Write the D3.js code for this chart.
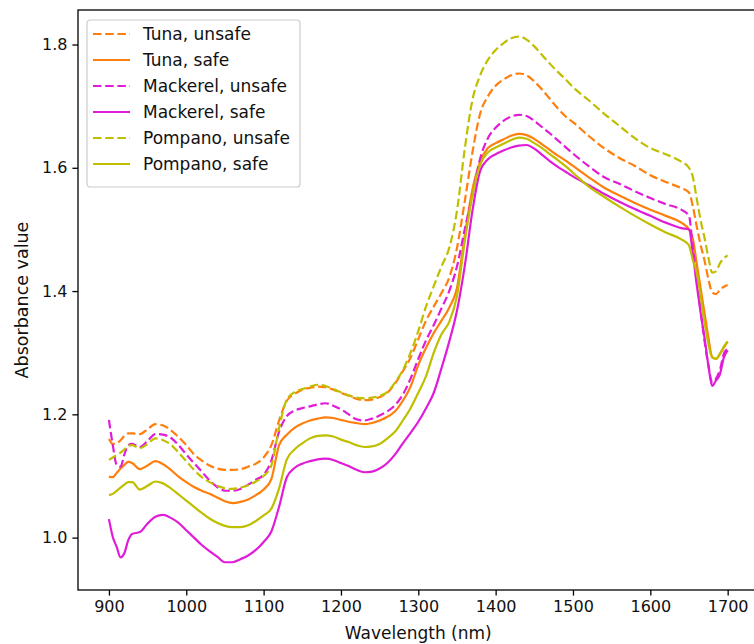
<!DOCTYPE html>
<html>
<head>
<meta charset="utf-8">
<script src="https://cdn.jsdelivr.net/npm/d3@7"></script>
<style>
  body { margin: 0; background: #fff; }
  svg { display: block; font-family: "DejaVu Sans", sans-serif; }
</style>
</head>
<body>
<div id="chart"></div>
<script>
// 波长 (nm)
const wavelength = [900, 905, 910, 915, 920, 925, 930,
  940, 950, 960, 970, 980, 990, 1000, 1010, 1020, 1030,
  1040, 1050, 1060, 1070, 1080, 1090, 1100, 1110, 1120, 1130,
  1140, 1150, 1160, 1170, 1180, 1190, 1200, 1210, 1220, 1230,
  1240, 1250, 1260, 1270, 1280, 1290, 1300, 1310, 1320, 1330,
  1340, 1350, 1360, 1370, 1380, 1390, 1400, 1410, 1420, 1430,
  1440, 1450, 1460, 1470, 1480, 1490, 1500,
  1520, 1540, 1560, 1580, 1600, 1620, 1640,
  1650, 1655, 1660, 1665, 1670, 1675, 1680, 1685, 1690, 1695, 1700];

const tunaUnsafe = [1.160, 1.152, 1.153, 1.158, 1.165, 1.169, 1.169,
  1.168, 1.176, 1.184, 1.182, 1.174, 1.163, 1.150, 1.135, 1.125, 1.117,
  1.112, 1.110, 1.110, 1.111, 1.115, 1.120, 1.130, 1.150, 1.190, 1.222,
  1.233, 1.240, 1.243, 1.245, 1.244, 1.240, 1.235, 1.230, 1.225, 1.223,
  1.224, 1.228, 1.235, 1.250, 1.270, 1.292, 1.322, 1.352, 1.375, 1.397,
  1.422, 1.470, 1.545, 1.625, 1.688, 1.716, 1.733, 1.743, 1.750, 1.753,
  1.750, 1.740, 1.727, 1.712, 1.697, 1.684, 1.674,
  1.652, 1.632, 1.616, 1.603, 1.588, 1.577, 1.567,
  1.560, 1.537, 1.505, 1.475, 1.450, 1.420, 1.398, 1.395, 1.402, 1.407, 1.410];

const tunaSafe = [1.099, 1.098, 1.105, 1.112, 1.118, 1.123, 1.121,
  1.111, 1.117, 1.124, 1.119, 1.110, 1.099, 1.090, 1.082, 1.076, 1.071,
  1.065, 1.059, 1.056, 1.058, 1.062, 1.069, 1.078, 1.095, 1.150, 1.167,
  1.178, 1.185, 1.190, 1.193, 1.195, 1.194, 1.191, 1.188, 1.186, 1.184,
  1.186, 1.190, 1.196, 1.205, 1.222, 1.245, 1.280, 1.308, 1.332, 1.352,
  1.373, 1.405, 1.490, 1.565, 1.610, 1.632, 1.640, 1.646, 1.652, 1.655,
  1.653, 1.647, 1.638, 1.629, 1.620, 1.612, 1.603,
  1.585, 1.568, 1.555, 1.543, 1.532, 1.522, 1.511,
  1.500, 1.485, 1.445, 1.405, 1.365, 1.325, 1.293, 1.290, 1.298, 1.308, 1.318];

const mackerelUnsafe = [1.191, 1.150, 1.118, 1.115, 1.135, 1.150, 1.152,
  1.147, 1.157, 1.168, 1.167, 1.162, 1.150, 1.135, 1.121, 1.107, 1.093,
  1.082, 1.076, 1.076, 1.079, 1.086, 1.094, 1.102, 1.125, 1.172, 1.197,
  1.206, 1.210, 1.213, 1.216, 1.218, 1.214, 1.208, 1.200, 1.192, 1.190,
  1.193, 1.198, 1.205, 1.215, 1.232, 1.258, 1.290, 1.320, 1.345, 1.372,
  1.400, 1.440, 1.500, 1.555, 1.615, 1.648, 1.665, 1.676, 1.683, 1.686,
  1.684, 1.676, 1.666, 1.656, 1.645, 1.634, 1.623,
  1.603, 1.585, 1.574, 1.562, 1.551, 1.541, 1.532,
  1.522, 1.470, 1.420, 1.370, 1.320, 1.280, 1.252, 1.258, 1.272, 1.298, 1.306];

const mackerelSafe = [1.030, 1.001, 0.985, 0.968, 0.975, 0.996, 1.006,
  1.009, 1.023, 1.034, 1.037, 1.032, 1.024, 1.012, 1.000, 0.988, 0.978,
  0.969, 0.960, 0.960, 0.965, 0.971, 0.980, 0.993, 1.010, 1.050, 1.098,
  1.113, 1.120, 1.124, 1.127, 1.128, 1.126, 1.121, 1.116, 1.110, 1.106,
  1.107, 1.112, 1.121, 1.135, 1.153, 1.170, 1.188, 1.210, 1.235, 1.275,
  1.318, 1.368, 1.440, 1.530, 1.595, 1.614, 1.622, 1.628, 1.633, 1.636,
  1.637, 1.631, 1.621, 1.611, 1.602, 1.594, 1.586,
  1.572, 1.558, 1.545, 1.533, 1.522, 1.511, 1.502,
  1.500, 1.461, 1.410, 1.365, 1.325, 1.280, 1.246, 1.255, 1.265, 1.292, 1.304];

const pompanoUnsafe = [1.126, 1.130, 1.134, 1.138, 1.143, 1.149, 1.150,
  1.145, 1.152, 1.161, 1.158, 1.151, 1.138, 1.124, 1.110, 1.098, 1.090,
  1.084, 1.080, 1.079, 1.081, 1.085, 1.091, 1.100, 1.117, 1.178, 1.224,
  1.236, 1.241, 1.245, 1.248, 1.246, 1.241, 1.236, 1.231, 1.227, 1.226,
  1.227, 1.230, 1.236, 1.252, 1.272, 1.300, 1.335, 1.375, 1.408, 1.440,
  1.470, 1.530, 1.630, 1.710, 1.750, 1.775, 1.791, 1.802, 1.810, 1.813,
  1.808, 1.797, 1.783, 1.769, 1.756, 1.744, 1.731,
  1.710, 1.688, 1.668, 1.648, 1.632, 1.622, 1.610,
  1.600, 1.585, 1.550, 1.515, 1.487, 1.455, 1.430, 1.432, 1.445, 1.453, 1.458];

const pompanoSafe = [1.069, 1.071, 1.076, 1.081, 1.086, 1.090, 1.090,
  1.078, 1.084, 1.091, 1.088, 1.080, 1.070, 1.060, 1.050, 1.040, 1.031,
  1.024, 1.019, 1.017, 1.017, 1.020, 1.027, 1.036, 1.047, 1.080, 1.127,
  1.143, 1.153, 1.161, 1.165, 1.166, 1.164, 1.159, 1.155, 1.150, 1.147,
  1.148, 1.152, 1.161, 1.172, 1.190, 1.210, 1.235, 1.262, 1.300, 1.330,
  1.350, 1.392, 1.480, 1.555, 1.605, 1.625, 1.633, 1.639, 1.645, 1.649,
  1.647, 1.640, 1.632, 1.622, 1.613, 1.603, 1.592,
  1.570, 1.553, 1.537, 1.522, 1.508, 1.495, 1.484,
  1.474, 1.450, 1.430, 1.392, 1.350, 1.315, 1.292, 1.290, 1.298, 1.310, 1.318];

const seriesNames = ["Tuna, unsafe", "Tuna, safe", "Mackerel, unsafe", "Mackerel, safe", "Pompano, unsafe", "Pompano, safe"];
const seriesValues = [tunaUnsafe, tunaSafe, mackerelUnsafe, mackerelSafe, pompanoUnsafe, pompanoSafe];
const xTicks = [900, 1000, 1100, 1200, 1300, 1400, 1500, 1600, 1700];
const yTicks = [1.0, 1.2, 1.4, 1.6, 1.8];

// 样式
const colors = ["#ff7f0e", "#ff7f0e", "#e01cd8", "#e01cd8", "#bfbf00", "#bfbf00"];
const dashed = [true, false, true, false, true, false];

const W = 754, H = 644;
const margin = {left: 78, top: 10, bottom: 54};
const plotW = 680.6, plotH = H - margin.top - margin.bottom;

const svg = d3.select("#chart").append("svg")
  .attr("width", W).attr("height", H);
svg.append("rect").attr("width", W).attr("height", H).attr("fill", "#fff");

const g = svg.append("g").attr("transform", `translate(${margin.left},${margin.top})`);

const x = d3.scaleLinear().domain([860, 1740]).range([0, plotW]);
const y = d3.scaleLinear().domain([0.915, 1.856]).range([plotH, 0]);

g.append("clipPath").attr("id", "clip")
  .append("rect").attr("width", plotW).attr("height", plotH);

// 曲线
const line = d3.line()
  .x(d => x(d[0]))
  .y(d => y(d[1]))
  .curve(d3.curveMonotoneX);

const lines = g.append("g").attr("clip-path", "url(#clip)");
seriesValues.forEach((vals, i) => {
  const pts = wavelength.map((w, j) => [w, vals[j]]);
  lines.append("path")
    .attr("d", line(pts))
    .attr("fill", "none")
    .attr("stroke", colors[i])
    .attr("stroke-width", 2.2)
    .attr("stroke-dasharray", dashed[i] ? "8.5,3.7" : null)
    .attr("stroke-linejoin", "round");
});

// 坐标轴
const xAxis = g.append("g")
  .attr("transform", `translate(0,${plotH})`)
  .call(d3.axisBottom(x).tickValues(xTicks).tickSize(5.6).tickPadding(5).tickFormat(d3.format("d")));
const yAxis = g.append("g")
  .call(d3.axisLeft(y).tickValues(yTicks).tickSize(5.6).tickPadding(5).tickFormat(d3.format(".1f")));

[xAxis, yAxis].forEach(a => {
  a.select(".domain").remove();
  a.selectAll(".tick line").attr("stroke", "#000").attr("stroke-width", 1.3);
  a.selectAll(".tick text").attr("fill", "#111").style("font-size", "16px")
    .style("font-family", "DejaVu Sans");
});

// 边框
g.append("rect")
  .attr("width", plotW).attr("height", plotH)
  .attr("fill", "none").attr("stroke", "#000").attr("stroke-width", 1.3);

// 轴标题
svg.append("text")
  .attr("x", margin.left + plotW / 2).attr("y", 639)
  .attr("text-anchor", "middle")
  .style("font-size", "17px").attr("fill", "#111")
  .text("Wavelength (nm)");
svg.append("text")
  .attr("transform", `translate(22,${margin.top + plotH / 2}) rotate(-90)`)
  .attr("text-anchor", "middle").attr("dominant-baseline", "central")
  .style("font-size", "17.5px").attr("fill", "#111")
  .text("Absorbance value");

// 图例
const legend = svg.append("g").attr("transform", "translate(87,20)");
legend.append("rect")
  .attr("width", 213).attr("height", 167).attr("rx", 3)
  .attr("fill", "#fff").attr("fill-opacity", 0.8)
  .attr("stroke", "#cccccc").attr("stroke-width", 1.2);
seriesNames.forEach((name, i) => {
  const cy = 14 + i * 26;
  legend.append("line")
    .attr("x1", 6).attr("x2", 43).attr("y1", cy).attr("y2", cy)
    .attr("stroke", colors[i]).attr("stroke-width", 2.2)
    .attr("stroke-dasharray", dashed[i] ? "8.5,3.7" : null);
  legend.append("text")
    .attr("x", 56).attr("y", cy).attr("dominant-baseline", "central")
    .style("font-size", "17px").attr("fill", "#111")
    .text(name);
});
</script>
</body>
</html>
